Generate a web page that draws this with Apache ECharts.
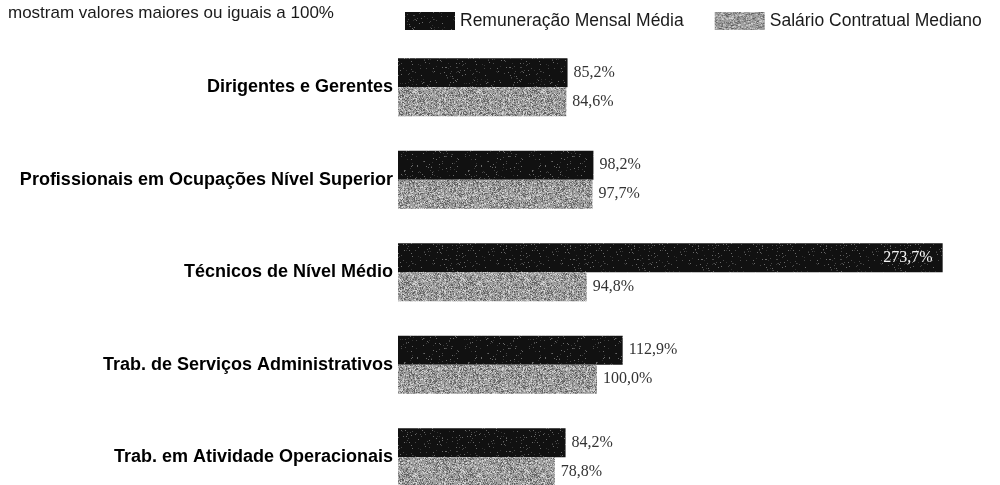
<!DOCTYPE html>
<html>
<head>
<meta charset="utf-8">
<script src="https://cdn.jsdelivr.net/npm/echarts@6/dist/echarts.min.js"></script>
<style>
html,body{margin:0;padding:0;background:#fff;}
#chart{width:1000px;height:485px;}
</style>
</head>
<body>
<div id="chart"></div>
<script>
const categories = [
  "Dirigentes e Gerentes",
  "Profissionais em Ocupações Nível Superior",
  "Técnicos de Nível Médio",
  "Trab. de Serviços Administrativos",
  "Trab. em Atividade Operacionais"
];
const seriesNames = ["Remuneração Mensal Média", "Salário Contratual Mediano"];
const remuneracao = [85.2, 98.2, 273.7, 112.9, 84.2];
const salario = [84.6, 97.7, 94.8, 100.0, 78.8];
const noteText = "mostram valores maiores ou iguais a 100%";

// deterministic speckle texture (style only)
function makeTexture(base, speck, density, seed) {
  const c = document.createElement('canvas');
  c.width = 64; c.height = 64;
  const ctx = c.getContext('2d');
  ctx.fillStyle = base; ctx.fillRect(0, 0, 64, 64);
  let s = seed;
  function rnd() { s = (s * 1103515245 + 12345) & 0x7fffffff; return s / 0x7fffffff; }
  for (let y = 0; y < 64; y++) {
    for (let x = 0; x < 64; x++) {
      const r = rnd();
      if (r < density) {
        ctx.fillStyle = speck[Math.floor(rnd() * speck.length)];
        ctx.fillRect(x, y, 1, 1);
      }
    }
  }
  return c;
}
const darkTex = makeTexture('#111111', ['#4a4a4a', '#333333', '#6a6a6a'], 0.05, 7);
const grayTex = makeTexture('#a0a0a0', ['#6e6e6e', '#c6c6c6', '#808080', '#d6d6d6', '#5c5c5c'], 0.5, 13);

const fmt = v => v.toFixed(1).replace('.', ',') + '%';

const chart = echarts.init(document.getElementById('chart'), null, {renderer: 'canvas'});
chart.setOption({
  animation: false,
  backgroundColor: '#fff',
  title: {
    text: noteText,
    left: 8, top: 5, padding: 0,
    textStyle: {fontFamily: 'Liberation Sans', fontSize: 17, fontWeight: 'normal', color: '#1a1a1a'}
  },
  legend: {
    data: seriesNames,
    left: 405, top: 12, padding: 0,
    itemWidth: 50, itemHeight: 18, itemGap: 31,
    icon: 'rect',
    textStyle: {fontFamily: 'Liberation Sans', fontSize: 17.5, color: '#1a1a1a', padding: [3, 0, 0, 0]}
  },
  grid: {left: 398, top: 41, width: 597, height: 462.5, containLabel: false, outerBoundsMode: 'none'},
  xAxis: {
    type: 'value', min: 0, max: 300, show: false
  },
  yAxis: {
    type: 'category', data: categories, inverse: true,
    axisLine: {show: false}, axisTick: {show: false}, splitLine: {show: false},
    axisLabel: {margin: 5, fontFamily: 'Liberation Sans', fontSize: 18, fontWeight: 'bold', color: '#000', padding: [0, 0, 3, 0]}
  },
  series: [
    {
      name: seriesNames[0], type: 'bar', data: remuneracao.map((v, i) => ({
        value: v,
        label: i === 2 ? {position: 'insideRight', color: '#f4f4f4', offset: [-4, 0]} : undefined
      })),
      barWidth: 29, barGap: '0%',
      itemStyle: {color: {image: darkTex, repeat: 'repeat'}},
      label: {show: true, position: 'right', distance: 6, formatter: p => fmt(p.value),
        fontFamily: 'Liberation Serif', fontSize: 16, color: '#333'}
    },
    {
      name: seriesNames[1], type: 'bar', data: salario,
      barWidth: 29, barGap: '0%',
      itemStyle: {color: {image: grayTex, repeat: 'repeat'}},
      label: {show: true, position: 'right', distance: 6, formatter: p => fmt(p.value),
        fontFamily: 'Liberation Serif', fontSize: 16, color: '#333'}
    }
  ]
});
</script>
</body>
</html>
